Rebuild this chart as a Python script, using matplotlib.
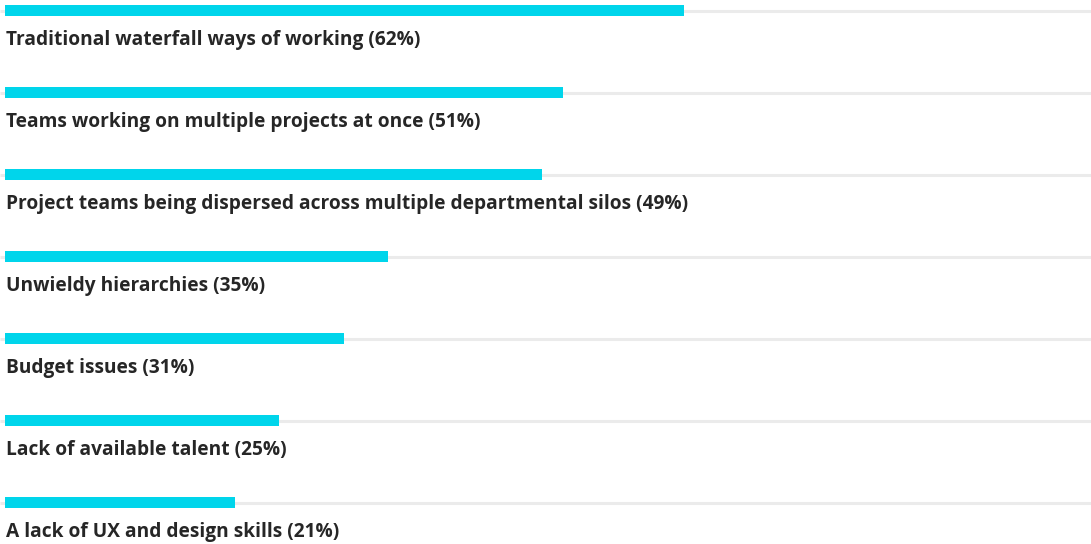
import matplotlib.pyplot as plt

labels = [
    "Traditional waterfall ways of working",
    "Teams working on multiple projects at once",
    "Project teams being dispersed across multiple departmental silos",
    "Unwieldy hierarchies",
    "Budget issues",
    "Lack of available talent",
    "A lack of UX and design skills",
]
values = [62, 51, 49, 35, 31, 25, 21]

bar_color = "#00d5eb"
track_color = "#ebebeb"
text_color = "#262626"

fig = plt.figure(figsize=(10.91, 5.44), dpi=100)
ax = fig.add_axes([0, 0, 1, 1])

px = 10.95  # pixels per percent
ax.set_xlim(-5 / px, (1091 - 5) / px)
row = 82.0
ax.set_ylim((544 - 10.5) / row, -10.5 / row)

for i, (lab, v) in enumerate(zip(labels, values)):
    ax.plot([-5 / px, 1091 / px], [i + 0.5 / row, i + 0.5 / row], color=track_color,
            lw=2.2, solid_capstyle="butt", zorder=1)
    ax.barh(i, v, height=11 / row, left=0, color=bar_color, zorder=2)
    ax.text(0.1, i + 35 / row, f"{lab} ({v}%)", fontsize=13.8, fontweight="bold",
            family=["Open Sans", "DejaVu Sans"], color=text_color, va="baseline", ha="left")

ax.axis("off")
fig.savefig("out.png", dpi=100)
